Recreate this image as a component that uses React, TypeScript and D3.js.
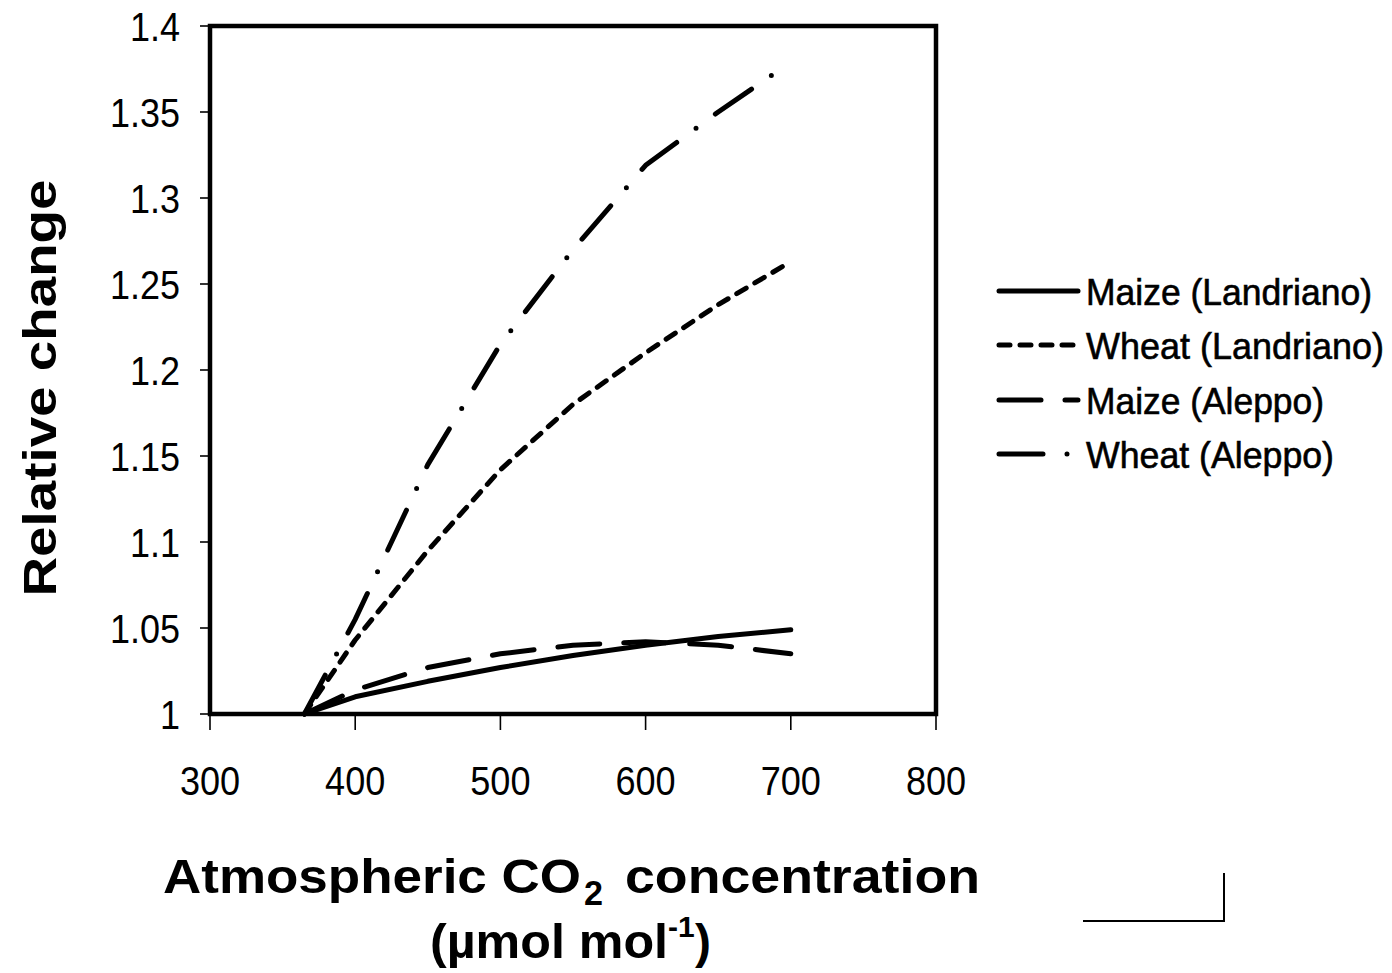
import React from "react";
import * as d3 from "d3";

// CO2 concentration levels (µmol mol-1)
const co2 = [365, 400, 450, 500, 550, 600, 650, 700];

// Relative change of yield per crop / site
const maizeLandriano = [1.0, 1.01, 1.019, 1.027, 1.034, 1.04, 1.045, 1.049];
const wheatLandriano = [1.0, 1.043, 1.095, 1.142, 1.18, 1.21, 1.238, 1.263];
const maizeAleppo = [1.0, 1.014, 1.027, 1.035, 1.04, 1.042, 1.04, 1.035];
const wheatAleppo = [1.0, 1.055, 1.145, 1.215, 1.27, 1.319, 1.35, 1.379];

const xTicks = [300, 400, 500, 600, 700, 800];
const yTicks = [1, 1.05, 1.1, 1.15, 1.2, 1.25, 1.3, 1.35, 1.4];
const yTickLabels = ["1", "1.05", "1.1", "1.15", "1.2", "1.25", "1.3", "1.35", "1.4"];

const seriesNames = ["Maize (Landriano)", "Wheat (Landriano)", "Maize (Aleppo)", "Wheat (Aleppo)"];

const FONT = "'Liberation Sans', Arial, sans-serif";

const styles = [
  { dash: "none", legendLen: 286 },
  { dash: "11 10", legendLen: 298 },
  { dash: "42 24", legendLen: 238 },
  { dash: "44 24 0 24", legendLen: 248 },
];

// approximate advance of digit strings in em (Arial metrics)
const numWidth = (s: string) =>
  s.split("").reduce((a, c) => a + (c === "." ? 0.278 : 0.556), 0);

export default function App() {
  const x = d3.scaleLinear().domain([300, 800]).range([210, 936]);
  const y = d3.scaleLinear().domain([1, 1.4]).range([714, 26]);
  const line = d3
    .line<number>()
    .x((_, i) => x(co2[i]))
    .y((d) => y(d));

  const data = [maizeLandriano, wheatLandriano, maizeAleppo, wheatAleppo];
  const legendY = [291, 345, 400, 454];

  return (
    <svg
      width={1392}
      height={973}
      style={{ position: "absolute", left: 0, top: 0, background: "#fff" }}
      fontFamily={FONT}
    >
      <rect width={1392} height={973} fill="#fff" />

      {/* y ticks and labels */}
      {yTicks.map((t, i) => (
        <g key={"y" + t}>
          <line x1={200} x2={210} y1={y(t)} y2={y(t)} stroke="#000" strokeWidth={1.6} />
          <text
            x={180}
            y={y(t) + 15}
            textAnchor="end"
            fontSize={40}
            fill="#000"
            textLength={numWidth(yTickLabels[i]) * 40 * 0.9}
            lengthAdjust="spacingAndGlyphs"
          >
            {yTickLabels[i]}
          </text>
        </g>
      ))}

      {/* x ticks and labels */}
      {xTicks.map((t) => (
        <g key={"x" + t}>
          <line x1={x(t)} x2={x(t)} y1={714} y2={730} stroke="#000" strokeWidth={1.6} />
          <text
            x={x(t)}
            y={795}
            textAnchor="middle"
            fontSize={41}
            fill="#000"
            textLength={numWidth(String(t)) * 41 * 0.88}
            lengthAdjust="spacingAndGlyphs"
          >
            {t}
          </text>
        </g>
      ))}

      {/* series */}
      {data.map((d, i) => (
        <path
          key={"s" + i}
          d={line(d) || ""}
          fill="none"
          stroke="#000"
          strokeWidth={5}
          strokeDasharray={styles[i].dash}
          strokeLinecap="round"
          strokeLinejoin="round"
        />
      ))}

      {/* plot frame */}
      <rect x={210} y={26} width={726} height={688} fill="none" stroke="#000" strokeWidth={4.5} />

      {/* legend */}
      {seriesNames.map((n, i) => (
        <g key={"l" + i}>
          <line
            x1={999}
            x2={1078}
            y1={legendY[i]}
            y2={legendY[i]}
            stroke="#000"
            strokeWidth={5}
            strokeDasharray={styles[i].dash}
            strokeLinecap="round"
          />
          <text
            x={1086}
            y={legendY[i] + 14}
            fontSize={37}
            fill="#000"
            stroke="#000"
            strokeWidth={0.6}
            textLength={styles[i].legendLen}
            lengthAdjust="spacingAndGlyphs"
          >
            {n}
          </text>
        </g>
      ))}

      {/* y axis title */}
      <text
        transform="translate(56,388) rotate(-90)"
        textAnchor="middle"
        fontSize={46}
        fontWeight="bold"
        fill="#000"
        textLength={417}
        lengthAdjust="spacingAndGlyphs"
      >
        Relative change
      </text>

      {/* x axis title, line 1 */}
      <text x={163} y={893} fontSize={48} fontWeight="bold" fill="#000" textLength={418} lengthAdjust="spacingAndGlyphs">
        Atmospheric CO
      </text>
      <text x={584} y={905} fontSize={35} fontWeight="bold" fill="#000" textLength={19} lengthAdjust="spacingAndGlyphs">
        2
      </text>
      <text x={625} y={893} fontSize={48} fontWeight="bold" fill="#000" textLength={355} lengthAdjust="spacingAndGlyphs">
        concentration
      </text>

      {/* x axis title, line 2 */}
      <text x={430} y={958} fontSize={48} fontWeight="bold" fill="#000" textLength={238} lengthAdjust="spacingAndGlyphs">
        (µmol mol
      </text>
      <text x={668} y={937} fontSize={30} fontWeight="bold" fill="#000">
        -1
      </text>
      <text x={695} y={958} fontSize={48} fontWeight="bold" fill="#000">
        )
      </text>

      {/* corner mark */}
      <polyline points="1083,921 1224,921 1224,873" fill="none" stroke="#000" strokeWidth={2} />
    </svg>
  );
}
